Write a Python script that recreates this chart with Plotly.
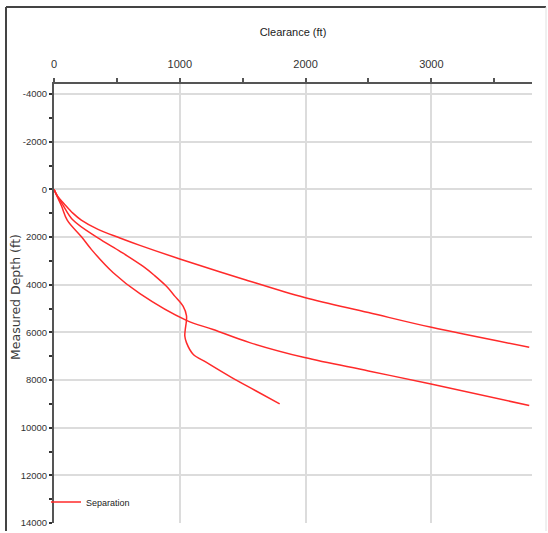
import plotly.graph_objects as go

# Separation curves: clearance (ft) vs measured depth (ft)
clear_a = [0, 30, 80, 150, 217, 350, 524, 683, 1000, 1500, 1992, 2500, 3000, 3778]
depth_a = [0, 300, 600, 1000, 1290, 1680, 2040, 2350, 2920, 3760, 4540, 5170, 5790, 6625]

clear_b = [0, 25, 60, 105, 220, 300, 471, 683, 1053, 1265, 1556, 1992, 2500, 2997, 3778]
depth_b = [0, 300, 700, 1290, 2000, 2540, 3500, 4380, 5500, 5880, 6431, 7060, 7620, 8170, 9070]

clear_c = [0, 28, 70, 151, 349, 530, 709, 800, 894, 960, 1026, 1053, 1052, 1043, 1040, 1053, 1106, 1212, 1410, 1600, 1794]
depth_c = [0, 300, 650, 1290, 2040, 2620, 3236, 3620, 4069, 4480, 4903, 5300, 5550, 5900, 6153, 6431, 6917, 7264, 7889, 8440, 9000]

x_ticks = [0, 1000, 2000, 3000]
x_labels = ["0", "1000", "2000", "3000"]
y_ticks = [-4000, -2000, 0, 2000, 4000, 6000, 8000, 10000, 12000, 14000]
y_labels = ["-4000", "-2000", "0", "2000", "4000", "6000", "8000", "10000", "12000", "14000"]

TICKFONT = "Liberation Sans Narrow, Arial Narrow, Liberation Sans, Arial, sans-serif"
RED = "#ff2a2a"

fig = go.Figure()
for i, (cx, dy) in enumerate([(clear_a, depth_a), (clear_b, depth_b), (clear_c, depth_c)]):
    fig.add_trace(go.Scatter(
        x=cx, y=dy, mode="lines", name="Separation",
        line=dict(color=RED, width=1.5, shape="spline", smoothing=1.0),
        legendgroup="sep", showlegend=(i == 0),
    ))

W, H = 548, 533
L, R, T, B = 54, 16, 84, 10
pw, ph = W - L - R, H - T - B

def px(xp):
    return (xp - L) / pw

def py(yp):
    return (H - B - yp) / ph

fig.update_layout(
    width=W, height=H, autosize=False,
    margin=dict(l=L, r=R, t=T, b=B),
    paper_bgcolor="white", plot_bgcolor="white",
    font=dict(family=TICKFONT, size=11, color="#333333"),
    xaxis=dict(
        side="top", range=[0, 3800], tickvals=x_ticks, ticktext=x_labels,
        automargin=False,
        showline=True, linecolor="#555555", linewidth=2,
        ticks="outside", ticklen=4, tickwidth=1.5, tickcolor="#555555",
        minor=dict(dtick=500, tick0=0, ticks="outside", ticklen=4, tickwidth=1.5,
                   tickcolor="#555555", showgrid=False),
        showgrid=True, gridcolor="#dcdcdc", gridwidth=1.5, zeroline=False,
        tickfont=dict(family=TICKFONT, size=11, color="#333333"),
        ticklabelstandoff=6,
        title=dict(text="Clearance (ft)", font=dict(family=TICKFONT, size=11, color="#222222"),
                   standoff=19),
    ),
    yaxis=dict(
        range=[14000, -4420], tickvals=y_ticks, ticktext=y_labels,
        automargin=False,
        showline=True, linecolor="#555555", linewidth=2,
        ticks="outside", ticklen=3, tickwidth=2, tickcolor="#333333",
        minor=dict(dtick=1000, tick0=0, ticks="outside", ticklen=3, tickwidth=2,
                   tickcolor="#333333", showgrid=False),
        showgrid=True, gridcolor="#dcdcdc", gridwidth=1.5, zeroline=False,
        tickfont=dict(family=TICKFONT, size=9.5, color="#333333"),
    ),
    annotations=[
        dict(text="Measured Depth (ft)", xref="paper", yref="paper",
             x=px(15), y=py(297), xanchor="center", yanchor="middle",
             textangle=-90, showarrow=False,
             font=dict(family="DejaVu Sans, Verdana, sans-serif", size=12.5, color="#3a3a3a")),
    ],
    legend=dict(
        x=px(46), y=py(502), xanchor="left", yanchor="middle",
        bgcolor="rgba(0,0,0,0)", itemwidth=30,
        font=dict(family=TICKFONT, size=9, color="#222222"),
    ),
    shapes=[
        dict(type="line", xref="paper", yref="paper", x0=px(6), x1=px(6), y0=py(7), y1=py(531),
             line=dict(color="#444444", width=2)),
        dict(type="line", xref="paper", yref="paper", x0=px(6), x1=px(546), y0=py(7), y1=py(7),
             line=dict(color="#444444", width=2)),
        dict(type="line", xref="paper", yref="paper", x0=px(546), x1=px(546), y0=py(7), y1=py(531),
             line=dict(color="#e0e0e0", width=1)),
    ],
)

fig.write_html("out.html")
